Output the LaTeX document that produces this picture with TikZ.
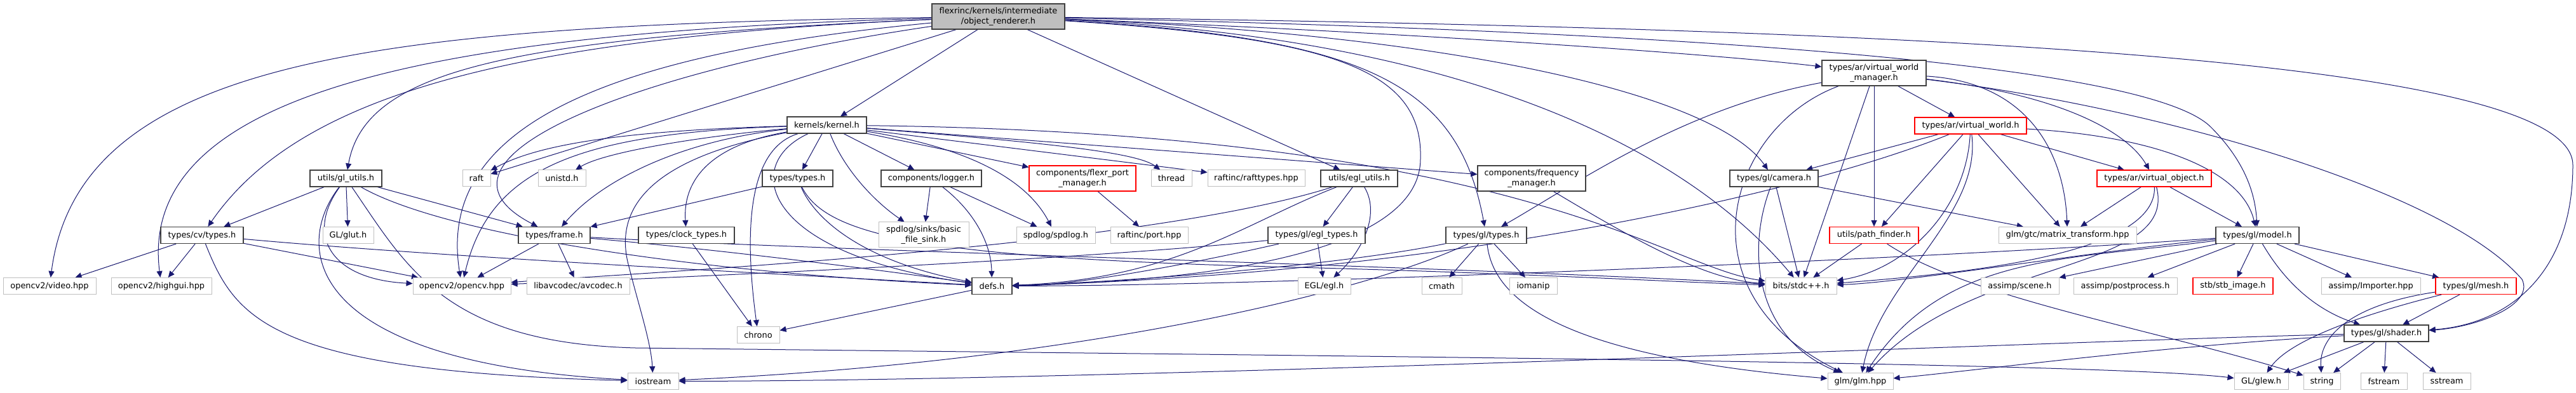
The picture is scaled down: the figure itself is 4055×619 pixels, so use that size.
\documentclass[tikz,border=0pt]{standalone}
\usepackage{fontspec}
\setmainfont{DejaVu Sans}
\usetikzlibrary{arrows.meta,backgrounds}
\definecolor{nodeblack}{HTML}{404040}
\definecolor{nodegray}{HTML}{BFBFBF}
\definecolor{nodered}{HTML}{FF0000}
\definecolor{rootgray}{HTML}{BFBFBF}
\definecolor{edgeblue}{HTML}{191970}
\newcommand\dgfont{\fontsize{6.45pt}{8pt}\selectfont}
\tikzset{
  blackbox/.style={draw=nodeblack, line width=0.6pt, fill=white, inner sep=0pt, minimum height=13pt, align=center, font=\dgfont, text=black},
  extbox/.style={blackbox, draw=nodegray, line width=0.5pt},
  redbox/.style={blackbox, draw=nodered},
  tall/.style={minimum height=20pt},
  wd/.style={minimum width=#1*0.5pt},
  e/.style={draw=edgeblue, line width=0.5pt, -{Triangle[length=5pt,width=4.5pt]}},
}
\begin{document}
\begin{tikzpicture}[x=0.5pt,y=-0.5pt]
\useasboundingbox (0,0) rectangle (4055,619);
% nodes
\node[blackbox, fill=rootgray, wd=209, tall] (root) at (1571.5,26) {flexrinc/kernels/intermediate\\/object\_renderer.h};
\node[blackbox, wd=164, tall] (vwm) at (2950,115) {types/ar/virtual\_world\\\_manager.h};
\node[blackbox, wd=125] (kernel) at (1301.5,197) {kernels/kernel.h};
\node[redbox, wd=176] (vworld) at (3102,198) {types/ar/virtual\_world.h};
\node[blackbox, wd=113] (glutils) at (544.5,281) {utils/gl\_utils.h};
\node[extbox, wd=44] (raft) at (750,281) {raft};
\node[extbox, wd=75] (unistd) at (884.5,281) {unistd.h};
\node[blackbox, wd=111] (tytypes) at (1255.5,281) {types/types.h};
\node[blackbox, wd=158] (logger) at (1466,281) {components/logger.h};
\node[redbox, wd=168, tall] (fport) at (1704,281) {components/flexr\_port\\\_manager.h};
\node[extbox, wd=64] (thread) at (1844,281) {thread};
\node[extbox, wd=153] (rafttypes) at (1977.5,281) {raftinc/rafttypes.hpp};
\node[blackbox, wd=121] (eglutils) at (2139.5,281) {utils/egl\_utils.h};
\node[blackbox, wd=170, tall] (freq) at (2411,281) {components/frequency\\\_manager.h};
\node[blackbox, wd=139] (camera) at (2792.5,281) {types/gl/camera.h};
\node[redbox, wd=180] (vobject) at (3391,281) {types/ar/virtual\_object.h};
\node[blackbox, wd=130] (cvtypes) at (318,370.5) {types/cv/types.h};
\node[extbox, wd=80] (glut) at (548,370.5) {GL/glut.h};
\node[blackbox, wd=113] (frame) at (872.5,370.5) {types/frame.h};
\node[blackbox, wd=151] (clock) at (1080.5,370.5) {types/clock\_types.h};
\node[extbox, wd=142, tall] (sinks) at (1454,370) {spdlog/sinks/basic\\\_file\_sink.h};
\node[extbox, wd=124] (spdlog) at (1662,370.5) {spdlog/spdlog.h};
\node[extbox, wd=122] (port) at (1809,370.5) {raftinc/port.hpp};
\node[blackbox, wd=153] (egltypes) at (2072.5,370.5) {types/gl/egl\_types.h};
\node[blackbox, wd=127] (gltypes) at (2339.5,370.5) {types/gl/types.h};
\node[redbox, wd=140] (pathf) at (2950,370.5) {utils/path\_finder.h};
\node[extbox, wd=217] (matrix) at (3254.5,370.5) {glm/gtc/matrix\_transform.hpp};
\node[blackbox, wd=131] (model) at (3553.5,370.5) {types/gl/model.h};
\node[extbox, wd=146] (video) at (78,450.5) {opencv2/video.hpp};
\node[extbox, wd=158] (highgui) at (254,450.5) {opencv2/highgui.hpp};
\node[extbox, wd=154] (opencv) at (727,450.5) {opencv2/opencv.hpp};
\node[extbox, wd=162] (avcodec) at (910,450.5) {libavcodec/avcodec.h};
\node[blackbox, wd=63] (defs) at (1561.5,450.5) {defs.h};
\node[extbox, wd=83] (egl) at (2084.5,450.5) {EGL/egl.h};
\node[extbox, wd=63] (cmath) at (2269.5,450.5) {cmath};
\node[extbox, wd=75] (iomanip) at (2413.5,450.5) {iomanip};
\node[extbox, wd=112] (stdc) at (2835,450.5) {bits/stdc++.h};
\node[extbox, wd=123] (scene) at (3179.5,450.5) {assimp/scene.h};
\node[extbox, wd=163] (postp) at (3345.5,450.5) {assimp/postprocess.h};
\node[redbox, wd=126] (stb) at (3515,450.5) {stb/stb\_image.h};
\node[extbox, wd=156] (importer) at (3732,450.5) {assimp/Importer.hpp};
\node[redbox, wd=127] (mesh) at (3897.5,450.5) {types/gl/mesh.h};
\node[extbox, wd=67] (chrono) at (1193.5,527.5) {chrono};
\node[blackbox, wd=133] (shader) at (3756.5,525) {types/gl/shader.h};
\node[extbox, wd=80] (iostream) at (1028,600.5) {iostream};
\node[extbox, wd=103] (glm) at (2928.5,600.5) {glm/glm.hpp};
\node[extbox, wd=85] (glew) at (3559.5,600.5) {GL/glew.h};
\node[extbox, wd=58] (string) at (3655,600.5) {string};
\node[extbox, wd=73] (fstream) at (3752.5,600.5) {fstream};
\node[extbox, wd=75] (sstream) at (3851.5,600.5) {sstream};
\begin{pgfonlayer}{background}
\fill[white] (0,0) rectangle (4055,619);
% root
\draw[e] (root) .. controls (600,40) and (125,90) .. (video);
\draw[e] (root) .. controls (700,50) and (215,140) .. (highgui);
\draw[e] (root) .. controls (800,60) and (470,150) .. (cvtypes);
\draw[e] (root) .. controls (800,60) and (575,110) .. (glutils);
\draw[e] (root) .. controls (900,90) and (690,220) .. (opencv);
\draw[e] (root) .. controls (1000,110) and (640,250) .. (frame);
\draw[e] (root) -- (raft);
\draw[e] (root) -- (kernel);
\draw[e] (root) -- (eglutils);
\draw[e] (root) .. controls (2100,60) and (2240,110) .. (2236,250) .. controls (2236,420) and (1800,445) .. (defs);
\draw[e] (root) .. controls (2150,60) and (2295,130) .. (gltypes);
\draw[e] (root) .. controls (2300,60) and (2650,230) .. (stdc);
\draw[e] (root) .. controls (2300,55) and (2700,150) .. (camera);
\draw[e] (root) .. controls (2200,50) and (2700,85) .. (vwm);
\draw[e] (root) .. controls (3000,45) and (4050,90) .. (4050,260) .. controls (4050,430) and (3950,510) .. (shader);
\draw[e] (root) .. controls (2900,55) and (3400,120) .. (3480,200) .. controls (3530,250) and (3550,300) .. (model);
% kernel
\draw[e] (kernel) .. controls (1000,205) and (850,225) .. (raft);
\draw[e] (kernel) .. controls (900,210) and (770,270) .. (opencv);
\draw[e] (kernel) .. controls (1100,215) and (950,240) .. (unistd);
\draw[e] (kernel) .. controls (1080,220) and (950,280) .. (frame);
\draw[e] (kernel) .. controls (1020,250) and (965,330) .. (990,420) .. controls (1005,480) and (1025,540) .. (iostream);
\draw[e] (kernel) .. controls (1110,230) and (1075,290) .. (clock);
\draw[e] (kernel) .. controls (1175,235) and (1172,370) .. (chrono);
\draw[e] (kernel) .. controls (1165,260) and (1200,400) .. (defs);
\draw[e] (kernel) -- (tytypes);
\draw[e] (kernel) .. controls (1330,270) and (1380,320) .. (sinks);
\draw[e] (kernel) -- (logger);
\draw[e] (kernel) .. controls (1540,235) and (1620,290) .. (spdlog);
\draw[e] (kernel) -- (fport);
\draw[e] (kernel) .. controls (1650,225) and (1790,240) .. (thread);
\draw[e] (kernel) -- (rafttypes);
\draw[e] (kernel) -- (freq);
\draw[e] (kernel) .. controls (2400,210) and (2620,420) .. (stdc);
% types/types.h
\draw[e] (tytypes) -- (frame);
\draw[e] (tytypes) .. controls (1280,340) and (1350,410) .. (defs);
\draw[e] (tytypes) .. controls (1300,370) and (1450,405) .. (2000,420) .. controls (2400,430) and (2650,445) .. (stdc);
% frame
\draw[e] (frame) -- (opencv);
\draw[e] (frame) -- (avcodec);
\draw[e] (frame) .. controls (1100,390) and (1350,420) .. (defs);
\draw[e] (frame) .. controls (1300,395) and (2300,420) .. (stdc);
\draw[e] (clock) -- (chrono);
% logger
\draw[e] (logger) -- (sinks);
\draw[e] (logger) .. controls (1530,330) and (1560,380) .. (defs);
\draw[e] (logger) -- (spdlog);
\draw[e] (fport) -- (port);
\draw[e] (freq) .. controls (2560,370) and (2680,440) .. (stdc);
% egl utils
\draw[e] (eglutils) -- (egltypes);
\draw[e] (eglutils) .. controls (2175,340) and (2140,400) .. (egl);
\draw[e] (eglutils) .. controls (1800,390) and (1000,430) .. (opencv);
\draw[e] (eglutils) .. controls (1960,350) and (1850,440) .. (defs);
\draw[e] (egltypes) -- (egl);
\draw[e] (egltypes) .. controls (1900,410) and (1700,450) .. (defs);
\draw[e] (egltypes) .. controls (1700,410) and (1000,440) .. (opencv);
% gl types
\draw[e] (gltypes) .. controls (2100,420) and (1750,445) .. (defs);
\draw[e] (gltypes) .. controls (2150,460) and (1700,570) .. (iostream);
\draw[e] (gltypes) -- (cmath);
\draw[e] (gltypes) -- (iomanip);
\draw[e] (gltypes) .. controls (2350,470) and (2450,560) .. (glm);
% camera
\draw[e] (camera) -- (matrix);
\draw[e] (camera) -- (stdc);
\draw[e] (camera) .. controls (2750,390) and (2760,530) .. (glm);
% virtual world manager
\draw[e] (vwm) .. controls (2650,170) and (2480,290) .. (gltypes);
\draw[e] (vwm) .. controls (2720,200) and (2640,460) .. (glm);
\draw[e] (vwm) -- (stdc);
\draw[e] (vwm) -- (pathf);
\draw[e] (vwm) -- (vworld);
\draw[e] (vwm) .. controls (3200,130) and (3250,250) .. (matrix);
\draw[e] (vwm) .. controls (3250,150) and (3350,210) .. (vobject);
\draw[e] (vwm) .. controls (3400,170) and (3850,300) .. (3970,440) .. controls (3990,480) and (3900,515) .. (shader);
% virtual world
\draw[e] (vworld) -- (camera);
\draw[e] (vworld) .. controls (2850,300) and (2300,430) .. (defs);
\draw[e] (vworld) -- (pathf);
\draw[e] (vworld) .. controls (3095,330) and (3000,425) .. (stdc);
\draw[e] (vworld) .. controls (3120,340) and (2960,440) .. (glm);
\draw[e] (vworld) -- (matrix);
\draw[e] (vworld) -- (vobject);
\draw[e] (vworld) .. controls (3400,215) and (3530,270) .. (model);
% virtual object
\draw[e] (vobject) -- (matrix);
\draw[e] (vobject) -- (model);
\draw[e] (vobject) .. controls (3395,400) and (3100,430) .. (stdc);
\draw[e] (vobject) .. controls (3430,430) and (3100,405) .. (glm);
% model
\draw[e] (model) .. controls (3000,410) and (2000,450) .. (defs);
\draw[e] (model) .. controls (3300,395) and (3000,445) .. (stdc);
\draw[e] (model) .. controls (3250,410) and (3060,400) .. (glm);
\draw[e] (model) -- (scene);
\draw[e] (model) -- (postp);
\draw[e] (model) -- (stb);
\draw[e] (model) .. controls (3600,450) and (3650,490) .. (shader);
\draw[e] (model) -- (importer);
\draw[e] (model) -- (mesh);
% path finder
\draw[e] (pathf) -- (stdc);
\draw[e] (pathf) .. controls (3100,470) and (3400,520) .. (string);
% mesh
\draw[e] (mesh) -- (shader);
\draw[e] (mesh) .. controls (3700,500) and (3600,540) .. (glew);
\draw[e] (mesh) .. controls (3700,480) and (3650,530) .. (string);
% shader
\draw[e] (shader) -- (glew);
\draw[e] (shader) -- (string);
\draw[e] (shader) -- (fstream);
\draw[e] (shader) -- (sstream);
\draw[e] (shader) .. controls (3300,535) and (1800,600) .. (iostream);
\draw[e] (shader) .. controls (3400,545) and (3100,585) .. (glm);
\draw[e] (defs) -- (chrono);
% gl utils
\draw[e] (glutils) -- (cvtypes);
\draw[e] (glutils) -- (glut);
\draw[e] (glutils) .. controls (480,370) and (520,440) .. (opencv);
\draw[e] (glutils) .. controls (460,390) and (480,570) .. (iostream);
\draw[e] (glutils) .. controls (640,420) and (700,540) .. (1000,548) .. controls (2000,560) and (3300,570) .. (glew);
\draw[e] (glutils) -- (frame);
\draw[e] (glutils) .. controls (700,370) and (1100,430) .. (defs);
% cv types
\draw[e] (cvtypes) -- (video);
\draw[e] (cvtypes) -- (highgui);
\draw[e] (cvtypes) -- (opencv);
\draw[e] (cvtypes) .. controls (370,500) and (420,585) .. (iostream);
\draw[e] (cvtypes) .. controls (700,405) and (1200,430) .. (defs);
\end{pgfonlayer}
\end{tikzpicture}
\end{document}
